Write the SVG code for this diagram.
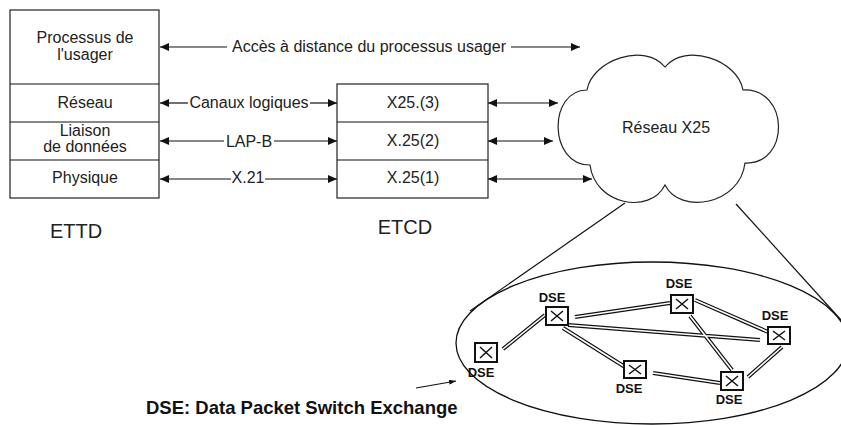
<svg xmlns="http://www.w3.org/2000/svg" width="841" height="425" viewBox="0 0 841 425">
<style>
text{font-family:"Liberation Sans",Arial,sans-serif;fill:#222}
.t{font-size:16px;text-anchor:middle}
.big{font-size:20px;text-anchor:middle}
.b{font-size:13px;font-weight:bold;text-anchor:middle;fill:#111}
.legend{font-size:18.5px;font-weight:bold;fill:#111}
.box{fill:#fff;stroke:#222;stroke-width:1.2}
.ln{stroke:#111;stroke-width:1.2;fill:none}
.arr{stroke:#111;stroke-width:1.2;fill:none;marker-end:url(#ah)}
.arr2{stroke:#111;stroke-width:1.2;fill:none;marker-start:url(#ah);marker-end:url(#ah)}
.arrs{stroke:#111;stroke-width:1.2;fill:none;marker-start:url(#ah)}
.dbo{stroke:#111;stroke-width:4;fill:none}
.dbi{stroke:#fff;stroke-width:1.6;fill:none}
.dse{fill:#fff;stroke:#111;stroke-width:2}
.x{stroke:#111;stroke-width:1.5}
</style>
<defs>
<marker id="ah" viewBox="0 0 9 8" refX="9" refY="4" markerWidth="9" markerHeight="8" markerUnits="userSpaceOnUse" orient="auto-start-reverse">
<path d="M0,0 L9,4 L0,8 z" fill="#111"/>
</marker>
<marker id="sh" viewBox="0 0 7 5" refX="7" refY="2.5" markerWidth="7" markerHeight="5" markerUnits="userSpaceOnUse" orient="auto">
<path d="M0,0 L7,2.5 L0,5 z" fill="#111"/>
</marker>
</defs>
<rect width="841" height="425" fill="#fff"/>

<g id="ettd">
<rect class="box" x="10" y="10" width="149" height="188"/>
<line class="ln" x1="10" y1="84" x2="159" y2="84"/>
<line class="ln" x1="10" y1="122" x2="159" y2="122"/>
<line class="ln" x1="10" y1="160" x2="159" y2="160"/>
<text class="t" x="85" y="43">Processus de</text>
<text class="t" x="85" y="60">l'usager</text>
<text class="t" x="85" y="108">Réseau</text>
<text class="t" x="85" y="136">Liaison</text>
<text class="t" x="85" y="152">de données</text>
<text class="t" x="85" y="183">Physique</text>
<text class="big" x="76" y="238">ETTD</text>
</g>

<g id="etcd">
<rect class="box" x="337" y="84" width="151" height="114"/>
<line class="ln" x1="337" y1="122" x2="488" y2="122"/>
<line class="ln" x1="337" y1="160" x2="488" y2="160"/>
<text class="t" x="413" y="108">X25.(3)</text>
<text class="t" x="413" y="146">X.25(2)</text>
<text class="t" x="413" y="183">X.25(1)</text>
<text class="big" x="405" y="234">ETCD</text>
</g>

<g id="cloud">
<path d="M587,90 C592,60 645,42 665,67 C685,42 738,60 743,90 C790,88 790,165 745,163 C740,205 680,215 665,185 C650,215 595,205 590,165 C548,165 548,90 587,90 Z" fill="#fff" stroke="#222" stroke-width="1.2"/>
<text class="t" x="666" y="133">Réseau X25</text>
</g>

<g id="connectors">
<line class="arrs" x1="160" y1="47" x2="227" y2="47"/>
<line class="arr" x1="511" y1="47" x2="580" y2="47"/>
<text class="t" x="369" y="52">Accès à distance du processus usager</text>
<line class="arrs" x1="160" y1="103" x2="188" y2="103"/>
<line class="arr" x1="310" y1="103" x2="337" y2="103"/>
<text class="t" x="249" y="108">Canaux logiques</text>
<line class="arrs" x1="160" y1="141" x2="224" y2="141"/>
<line class="arr" x1="274" y1="141" x2="337" y2="141"/>
<text class="t" x="249" y="147">LAP-B</text>
<line class="arrs" x1="160" y1="179" x2="231" y2="179"/>
<line class="arr" x1="265" y1="179" x2="337" y2="179"/>
<text class="t" x="248" y="183">X.21</text>
<line class="arr2" x1="488" y1="103" x2="558" y2="103"/>
<line class="arr2" x1="488" y1="141" x2="553" y2="141"/>
<line class="arr2" x1="488" y1="179" x2="592" y2="179"/>
<line class="ln" x1="625" y1="203" x2="470" y2="311"/>
<line class="ln" x1="736" y1="204" x2="841" y2="320"/>
<line x1="416" y1="388" x2="456" y2="381" stroke="#111" stroke-width="1.2" marker-end="url(#sh)"/>
</g>

<ellipse cx="652" cy="343" rx="196" ry="81" fill="none" stroke="#111" stroke-width="1.3"/>

<g id="links">
<path class="dbo" d="M503,349 L545,315 M575,317 L670,303 M568,325 L760,340 M563,328 L625,367 M695,300 L768,332 M690,316 L732,370 M653,373 L720,383 M782,347 L748,377"/>
<path class="dbi" d="M503,349 L545,315 M575,317 L670,303 M568,325 L760,340 M563,328 L625,367 M695,300 L768,332 M690,316 L732,370 M653,373 L720,383 M782,347 L748,377"/>
</g>

<g id="dse1">
<rect class="dse" x="475" y="343" width="22" height="19"/>
<path class="x" d="M480,347 L492,358 M492,347 L480,358"/>
<text class="b" x="481" y="377">DSE</text>
</g>
<g id="dse2">
<rect class="dse" x="546" y="307" width="22" height="18"/>
<path class="x" d="M551,311 L563,321 M563,311 L551,321"/>
<text class="b" x="552" y="302">DSE</text>
</g>
<g id="dse3">
<rect class="dse" x="671" y="295" width="22" height="18"/>
<path class="x" d="M676,299 L688,309 M688,299 L676,309"/>
<text class="b" x="679" y="288">DSE</text>
</g>
<g id="dse4">
<rect class="dse" x="768" y="327" width="22" height="17"/>
<path class="x" d="M773,331 L785,340 M785,331 L773,340"/>
<text class="b" x="775" y="320">DSE</text>
</g>
<g id="dse5">
<rect class="dse" x="624" y="361" width="22" height="17"/>
<path class="x" d="M629,365 L641,374 M641,365 L629,374"/>
<text class="b" x="629" y="393">DSE</text>
</g>
<g id="dse6">
<rect class="dse" x="721" y="372" width="22" height="18"/>
<path class="x" d="M726,376 L738,386 M738,376 L726,386"/>
<text class="b" x="729" y="404">DSE</text>
</g>

<text class="legend" x="146" y="414">DSE: Data Packet Switch Exchange</text>
</svg>
